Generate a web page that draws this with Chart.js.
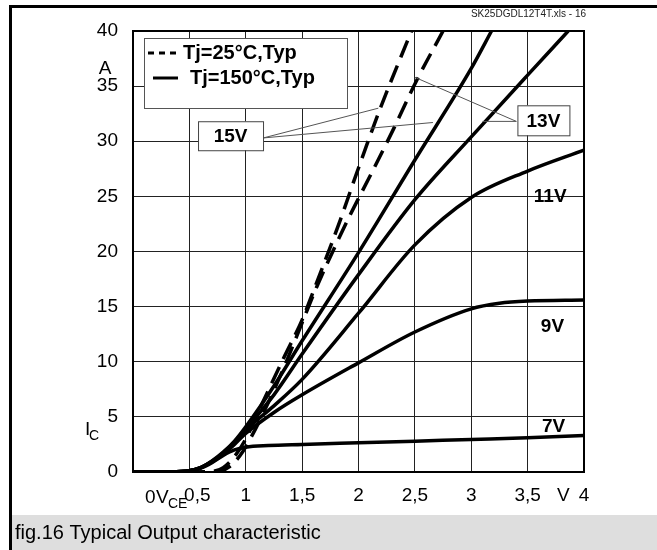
<!DOCTYPE html>
<html>
<head>
<meta charset="utf-8">
<script src="https://cdn.jsdelivr.net/npm/chart.js@4"></script>
<style>
  html, body { margin: 0; padding: 0; background: #fff; }
  #wrap { width: 657px; height: 550px; position: relative; }
</style>
</head>
<body>
<div id="wrap"><canvas id="chart" width="657" height="550"></canvas></div>
<script>
// axis ticks
const xTicks = [0, 0.5, 1, 1.5, 2, 2.5, 3, 3.5, 4];
const yTicks = [0, 5, 10, 15, 20, 25, 30, 35, 40];

// Tj=150°C curves (solid), VGE = 7..15 V
const vce7 = [0, 0.3, 0.5, 0.6, 0.7, 0.8, 0.9, 1.0, 1.2, 1.5, 2.0, 2.5, 3.0, 3.5, 4.0];
const ic7 = [0, 0.02, 0.12, 0.35, 0.85, 1.5, 2.0, 2.25, 2.4, 2.5, 2.65, 2.8, 2.95, 3.1, 3.3];

const vce9 = [0, 0.3, 0.5, 0.6, 0.7, 0.8, 0.9, 1.0, 1.25, 1.5, 2.0, 2.5, 3.0, 3.25, 3.5, 4.0];
const ic9 = [0, 0.02, 0.12, 0.38, 0.9, 1.6, 2.5, 3.5, 5.4, 7.0, 9.9, 12.7, 14.8, 15.3, 15.5, 15.6];

const vce11 = [0, 0.3, 0.5, 0.6, 0.7, 0.8, 0.9, 1.0, 1.25, 1.5, 2.0, 2.5, 3.0, 3.5, 4.0];
const ic11 = [0, 0.02, 0.12, 0.4, 0.95, 1.7, 2.6, 3.8, 6.0, 8.4, 14.4, 20.6, 24.9, 27.3, 29.2];

const vce13 = [0, 0.3, 0.5, 0.6, 0.7, 0.8, 0.9, 1.0, 1.25, 1.5, 2.0, 2.5, 3.0, 3.5, 3.86];
const ic13 = [0, 0.02, 0.12, 0.4, 0.95, 1.75, 2.7, 3.9, 7.0, 10.7, 17.9, 24.7, 30.4, 36.0, 40];

const vce15 = [0, 0.3, 0.5, 0.6, 0.7, 0.8, 0.9, 1.0, 1.25, 1.5, 2.0, 2.5, 3.0, 3.18];
const ic15 = [0, 0.02, 0.12, 0.4, 1.0, 1.8, 2.8, 4.1, 7.8, 11.9, 19.9, 28.3, 36.6, 40];

// Tj=25°C curves (dashed)
const vce15c = [0, 0.5, 0.7, 0.8, 0.9, 1.0, 1.15, 1.33, 1.5, 1.6, 1.84, 1.98, 2.19, 2.47];
const ic15c = [0, 0, 0.05, 0.4, 1.4, 3.0, 6.3, 10.2, 13.8, 16.4, 22.9, 27.0, 32.9, 40];

const vce13c = [0, 0.5, 0.75, 0.85, 0.95, 1.05, 1.2, 1.36, 1.51, 1.63, 1.84, 1.92, 2.1, 2.31, 2.52, 2.75];
const ic13c = [0, 0, 0.05, 0.45, 1.5, 3.2, 6.3, 10.0, 13.8, 16.8, 21.5, 23.2, 26.8, 31.1, 35.6, 40];

const FONT = '"Liberation Sans", Arial, sans-serif';

function pts(xs, ys) {
    return xs.map((x, i) => ({ x, y: ys[i] }));
}

function curve(label, xs, ys, dashed) {
    return {
        label,
        data: pts(xs, ys),
        borderColor: '#000',
        borderWidth: 3.5,
        borderDash: dashed ? [18, 9] : [],
        pointRadius: 0,
        fill: false,
        cubicInterpolationMode: 'monotone',
    };
}

const datasets = [
    curve('15V 25°C', vce15c, ic15c, true),
    curve('13V 25°C', vce13c, ic13c, true),
    curve('7V', vce7, ic7, false),
    curve('9V', vce9, ic9, false),
    curve('11V', vce11, ic11, false),
    curve('13V', vce13, ic13, false),
    curve('15V', vce15, ic15, false),
];

// page decoration and annotations
const decor = {
    id: 'decor',
    beforeDraw(chart) {
        const ctx = chart.ctx;
        ctx.save();
        ctx.fillStyle = '#fff';
        ctx.fillRect(0, 0, chart.width, chart.height);
        // caption band
        ctx.fillStyle = '#dedede';
        ctx.fillRect(12, 515, chart.width - 12, 35);
        ctx.fillStyle = '#000';
        ctx.font = '20px ' + FONT;
        ctx.textBaseline = 'middle';
        ctx.textAlign = 'left';
        ctx.fillText('fig.16 Typical Output characteristic', 15, 533);
        // frame
        ctx.fillRect(9, 5, chart.width - 9, 3);
        ctx.fillRect(9, 5, 3, chart.height - 5);
        // file tag
        ctx.font = '10px ' + FONT;
        ctx.textAlign = 'right';
        ctx.fillStyle = '#222';
        ctx.fillText('SK25DGDL12T4T.xls - 16', 586, 14);
        ctx.restore();
    },
    afterDatasetsDraw(chart) {
        const ctx = chart.ctx;
        const a = chart.chartArea;
        const sx = chart.scales.x, sy = chart.scales.y;
        const X = v => sx.getPixelForValue(v);
        const Y = v => sy.getPixelForValue(v);
        ctx.save();

        // plot border
        ctx.strokeStyle = '#000';
        ctx.lineWidth = 2;
        ctx.setLineDash([]);
        ctx.strokeRect(a.left, a.top, a.right - a.left, a.bottom - a.top);

        // leader lines
        ctx.strokeStyle = '#555';
        ctx.lineWidth = 1;
        const leaders = [
            [1.156, 30.3, 2.176, 33.0],
            [1.156, 30.3, 2.66, 31.7],
            [3.40, 31.8, 2.50, 35.8],
            [3.40, 31.8, 3.10, 31.8],
        ];
        leaders.forEach(l => {
            ctx.beginPath();
            ctx.moveTo(X(l[0]), Y(l[1]));
            ctx.lineTo(X(l[2]), Y(l[3]));
            ctx.stroke();
        });

        // boxed labels
        const boxes = [
            { text: '15V', x: 0.865, y: 30.5, w: 65, h: 29 },
            { text: '13V', x: 3.64, y: 31.9, w: 52, h: 30 },
        ];
        ctx.font = 'bold 19px ' + FONT;
        ctx.textAlign = 'center';
        ctx.textBaseline = 'middle';
        boxes.forEach(b => {
            const cx = X(b.x), cy = Y(b.y);
            ctx.fillStyle = '#fff';
            ctx.fillRect(cx - b.w / 2, cy - b.h / 2, b.w, b.h);
            ctx.strokeStyle = '#444';
            ctx.lineWidth = 1;
            ctx.strokeRect(cx - b.w / 2 + 0.5, cy - b.h / 2 + 0.5, b.w, b.h);
            ctx.fillStyle = '#000';
            ctx.fillText(b.text, cx, cy + 1);
        });

        // plain labels
        const tags = [
            { text: '11V', x: 3.70, y: 25.0 },
            { text: '9V', x: 3.72, y: 13.2 },
            { text: '7V', x: 3.73, y: 4.06 },
        ];
        tags.forEach(t => ctx.fillText(t.text, X(t.x), Y(t.y)));

        // legend box
        const lx = a.left + 11, ly = a.top + 7;
        ctx.fillStyle = '#fff';
        ctx.fillRect(lx, ly, 203, 70);
        ctx.strokeStyle = '#555';
        ctx.lineWidth = 1;
        ctx.strokeRect(lx + 0.5, ly + 0.5, 203, 70);
        ctx.strokeStyle = '#000';
        ctx.lineWidth = 3;
        ctx.setLineDash([6, 5]);
        ctx.beginPath();
        ctx.moveTo(lx + 4, ly + 15);
        ctx.lineTo(lx + 34, ly + 15);
        ctx.stroke();
        ctx.setLineDash([]);
        ctx.beginPath();
        ctx.moveTo(lx + 9, ly + 40);
        ctx.lineTo(lx + 34, ly + 40);
        ctx.stroke();
        ctx.fillStyle = '#000';
        ctx.textAlign = 'left';
        ctx.font = 'bold 20px ' + FONT;
        ctx.fillText('Tj=25°C,Typ', lx + 39, ly + 15);
        ctx.fillText('Tj=150°C,Typ', lx + 46, ly + 40);

        // axis units
        ctx.font = '19px ' + FONT;
        ctx.textBaseline = 'alphabetic';
        ctx.textAlign = 'left';
        ctx.fillText('0', a.left + 12, a.bottom + 31);
        ctx.fillText('V', a.left + 23, a.bottom + 31);
        ctx.fillText('V', a.right - 27, a.bottom + 29);
        ctx.textAlign = 'center';
        ctx.fillText('A', a.left - 28, a.top + 43);
        ctx.textAlign = 'left';
        ctx.fillText('I', a.left - 48, a.bottom - 37);
        ctx.font = '14px ' + FONT;
        ctx.fillText('CE', a.left + 35, a.bottom + 36);
        ctx.fillText('C', a.left - 44, a.bottom - 32);
        ctx.restore();
    },
};

new Chart(document.getElementById('chart'), {
    type: 'line',
    data: { datasets },
    options: {
        responsive: false,
        animation: false,
        devicePixelRatio: 1,
        layout: { padding: { left: 0, top: 31, right: 73, bottom: 38 } },
        plugins: {
            legend: { display: false },
            tooltip: { enabled: false },
        },
        scales: {
            x: {
                type: 'linear',
                min: 0,
                max: 4,
                afterBuildTicks: s => { s.ticks = xTicks.map(v => ({ value: v })); },
                afterFit: s => { s.height = 40; },
                ticks: {
                    color: '#000',
                    font: { family: FONT, size: 19 },
                    padding: 12,
                    maxRotation: 0,
                    // zero is drawn together with the V_CE unit; 0,5 nudged right like the original
                    callback: v => (v === 0 ? '' : v === 0.5 ? '   0,5' : String(v).replace('.', ',')),
                },
                grid: { color: '#222', lineWidth: 1, drawTicks: false },
                border: { color: '#000', width: 2 },
            },
            y: {
                min: 0,
                max: 40,
                afterBuildTicks: s => { s.ticks = yTicks.map(v => ({ value: v })); },
                afterFit: s => { s.width = 133; },
                ticks: {
                    color: '#000',
                    font: { family: FONT, size: 19 },
                    padding: 15,
                },
                grid: { color: '#222', lineWidth: 1, drawTicks: false },
                border: { color: '#000', width: 2 },
            },
        },
    },
    plugins: [decor],
});
</script>
</body>
</html>
